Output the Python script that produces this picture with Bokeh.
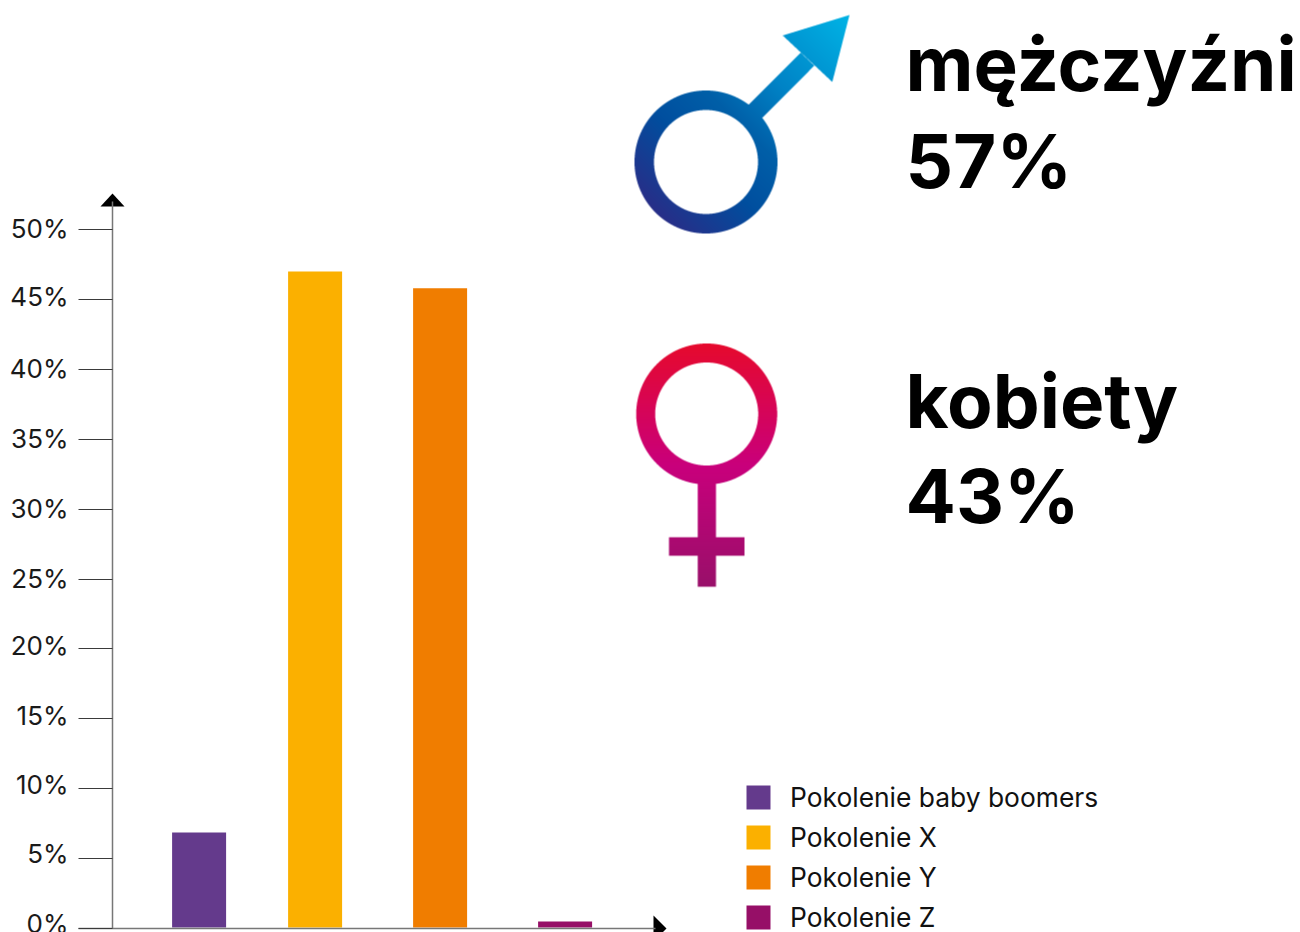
import numpy as np
from bokeh.plotting import figure
from bokeh.models import Range1d, FixedTicker, Legend, LegendItem, ColumnDataSource
from bokeh.core.properties import value
from bokeh.embed import file_html
from bokeh.resources import INLINE

# ---- data ----
generations = ["Pokolenie baby boomers", "Pokolenie X", "Pokolenie Y", "Pokolenie Z"]
shares = [6.87, 47.0, 45.8, 0.5]
bar_colors = ["#643a8c", "#fbb000", "#f07d00", "#960f67"]
tick_values = [0, 5, 10, 15, 20, 25, 30, 35, 40, 45, 50]
tick_labels = ["0%", "5%", "10%", "15%", "20%", "25%", "30%", "35%", "40%", "45%", "50%"]
gender_labels = ["mężczyźni", "57%", "kobiety", "43%"]

# ---- layout (page pixels) ----
W, H = 1300, 932
AXIS_BOTTOM = 928.0
PX_PER_PCT = 13.98
bar_centers = [198.6, 314.6, 439.6, 564.6]
label_lift = [5, 5, 4, 3.5, 3.5, 1, 1, 1, 1, 3, 1]
FONT = "Inter"
BASELINE_FIX = 28  # the text glyph sits this far under the requested baseline

p = figure(width=W, height=H, output_backend="svg", toolbar_location=None,
           x_range=Range1d(0, W),
           y_range=Range1d(-(H - AXIS_BOTTOM) / PX_PER_PCT, AXIS_BOTTOM / PX_PER_PCT),
           min_border=0, margin=0, outline_line_color=None,
           x_axis_location="below", y_axis_location="left")
p.grid.visible = False
p.extra_y_ranges["px"] = Range1d(0, H)   # height above the page's bottom edge


def up(y):
    return H - y


# axes
ya = p.yaxis[0]
ya.fixed_location = 112
ya.ticker = FixedTicker(ticks=tick_values)
ya.bounds = (0, 52)
ya.major_label_overrides = {t: "" for t in tick_values}
ya.major_tick_out = 34
ya.major_tick_in = 0
ya.minor_tick_out = 0
ya.minor_tick_in = 0
ya.major_tick_line_color = "#3a3a3a"
ya.major_tick_line_width = 1
ya.axis_line_color = "#777777"
ya.axis_line_width = 1.5

xa = p.xaxis[0]
xa.fixed_location = 0
xa.ticker = FixedTicker(ticks=[])
xa.bounds = (78, 655)
xa.major_tick_out = 0
xa.major_tick_in = 0
xa.minor_tick_out = 0
xa.minor_tick_in = 0
xa.axis_line_color = "#777777"
xa.axis_line_width = 1.5

# bars
src = ColumnDataSource(dict(x=bar_centers, top=shares, color=bar_colors, name=generations))
bars = p.vbar(x="x", top="top", bottom=0.07, width=54, fill_color="color", line_color=None, source=src)

# legend
legend = Legend(items=[LegendItem(label=g, renderers=[bars], index=i) for i, g in enumerate(generations)],
                location=(743, -1), glyph_width=30, glyph_height=30, spacing=8, label_standoff=17,
                padding=0, margin=0, border_line_color=None, background_fill_alpha=0,
                label_text_font=FONT, label_text_font_size="26.4px", label_text_color="#111111")
p.add_layout(legend, "center")

# tick labels
p.text(x=[68] * len(tick_labels), y=tick_values, text=tick_labels, y_offset=[-v for v in label_lift],
       text_align="right", text_baseline="middle", text_font=value(FONT),
       text_font_size="26px", text_color="#1a1a1a")

# axis arrow heads
p.patch(x=[112, 100, 124], y=[up(193), up(206), up(206)], y_range_name="px", fill_color="black", line_color=None)
p.patch(x=[666, 653, 653], y=[up(928), up(915), up(941)], y_range_name="px", fill_color="black", line_color=None)

# big texts
p.text(x=[905] * 4, y=[up(y - BASELINE_FIX) for y in (91, 188, 428, 523)], text=gender_labels, y_range_name="px",
       text_align="left", text_baseline="alphabetic", text_font=value(FONT), text_font_style="bold",
       text_font_size="74.5px", text_color="black")


# gender symbols: masks rasterised with a gradient
def ramp(t, stops):
    t = np.clip(t, 0, 1)
    pos = [s[0] for s in stops]
    return [np.interp(t, pos, [s[1][k] for s in stops]) for k in range(3)]


def poly_mask(xx, yy, pts):
    inside = np.zeros_like(xx, dtype=bool)
    n = len(pts)
    for i in range(n):
        x1, y1 = pts[i]
        x2, y2 = pts[(i + 1) % n]
        cond = ((y1 > yy) != (y2 > yy)) & (xx < (x2 - x1) * (yy - y1) / (y2 - y1 + 1e-12) + x1)
        inside ^= cond
    return inside


def icon(x0, y0, w, h, mask_fn, color_fn, ss=4):
    xs = x0 + (np.arange(w * ss) + 0.5) / ss
    ys = y0 + (np.arange(h * ss) + 0.5) / ss
    xx, yy = np.meshgrid(xs, ys)
    m = mask_fn(xx, yy).reshape(h, ss, w, ss).mean(axis=(1, 3))
    xc = xx[ss // 2::ss, ss // 2::ss]
    yc = yy[ss // 2::ss, ss // 2::ss]
    r, g, b = color_fn(xc, yc)
    img = np.zeros((h, w), dtype=np.uint32)
    view = img.view(dtype=np.uint8).reshape((h, w, 4))
    view[..., 0] = r.astype(np.uint8)
    view[..., 1] = g.astype(np.uint8)
    view[..., 2] = b.astype(np.uint8)
    view[..., 3] = (m * 255).astype(np.uint8)
    p.image_rgba(image=[img[::-1]], x=x0, y=up(y0 + h), dw=w, dh=h, y_range_name="px")


def male_mask(xx, yy):
    d = np.hypot(xx - 705.5, yy - 161.5)
    ring = (d <= 71.5) & (d >= 52)
    shaft = poly_mask(xx, yy, [(747.8, 104.5), (800.2, 52.2), (813.8, 65.2), (761.8, 117.2)]) & (d > 60)
    head = poly_mask(xx, yy, [(849, 14.5), (782.2, 35), (831.8, 81.5)])
    return ring | shaft | head


def male_color(xx, yy):
    t = ((xx - 655) + (235 - yy)) / ((850 - 655) + (235 - 15))
    return ramp(t, [(0, (0x31, 0x27, 0x83)), (0.3, (0x00, 0x4f, 0x9f)), (0.47, (0x00, 0x5f, 0xa8)),
                    (0.66, (0x00, 0x83, 0xc6)), (1, (0x00, 0xb4, 0xe6))])


def female_mask(xx, yy):
    d = np.hypot(xx - 706.2, yy - 413.5)
    ring = (d <= 70.5) & (d >= 51.5)
    shaft = (xx >= 697.2) & (xx <= 715.5) & (yy >= 470) & (yy <= 586.2)
    cross = (xx >= 668.5) & (xx <= 744) & (yy >= 536.8) & (yy <= 555.2)
    return ring | shaft | cross


def female_color(xx, yy):
    t = (yy - 344) / (587 - 344)
    return ramp(t, [(0, (0xe6, 0x0a, 0x2e)), (0.5, (0xc9, 0x00, 0x7c)), (1, (0x99, 0x10, 0x6a))])


icon(630, 10, 225, 228, male_mask, male_color)
icon(630, 340, 155, 250, female_mask, female_color)

open("out.html", "w").write(file_html(p, INLINE))
